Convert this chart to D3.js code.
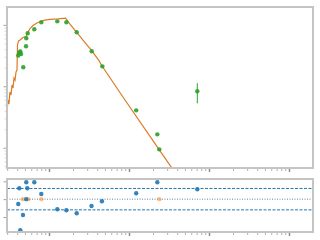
<!DOCTYPE html>
<html>
<head>
<meta charset="utf-8">
<script src="https://cdn.jsdelivr.net/npm/d3@7/dist/d3.min.js"></script>
<style>
html, body { margin: 0; padding: 0; background: #fff; }
</style>
</head>
<body>
<script>
// observed points, top panel
const obsX = [4.13, 4.25, 4.38, 4.47, 4.77, 5.16, 5.20, 5.42, 6.55, 8.01, 12.7, 16.5, 22.2, 34.2, 46.4, 123, 226, 239, 714];
const obsY = [31.7, 35.5, 36.8, 33.5, 20.4, 44.7, 60.4, 72.8, 84.6, 110, 114, 110, 75.5, 37.1, 21.1, 4.06, 1.65, 0.94, 8.28];
// only one point has a visible error bar
const errX = [714];
const errLo = [5.28];
const errHi = [11.2];

// model curve
const modelX = [2.985, 3.07, 3.16, 3.25, 3.35, 3.45, 3.55, 3.65, 3.76, 3.87, 3.98, 4.04, 4.16, 4.34, 4.73, 5.16, 5.46, 5.79, 6.31, 7.08, 7.72, 8.91, 10.3, 13.0, 16.1, 18.3, 22.2, 28.2, 34.2, 42.2, 46.0, 89.1, 237, 434];
const modelY = [3.81, 5.98, 5.15, 8.07, 7.21, 10.5, 9.38, 13.6, 12.6, 17.1, 18.4, 47.0, 54.6, 56.6, 62.2, 64.6, 76.4, 87.1, 97.5, 107, 112, 119, 123, 125, 128, 103, 75.5, 51.5, 37.9, 26.1, 21.4, 5.98, 0.942, 0.30];

// residuals, bottom panel
const resX = [4.13, 4.25, 4.38, 4.73, 5.20, 5.20, 5.36, 6.55, 8.01, 12.7, 16.5, 22.2, 34.0, 45.9, 123, 226, 714];
const resY = [-1.34, 3.05, -8.7, -4.43, 4.73, 0.0, 3.05, 4.73, 1.46, -2.83, -3.11, -3.95, -1.9, -0.59, 1.65, 4.73, 2.77];
const zeroX = [4.73, 5.52, 8.01, 239];
const zeroY = [0, 0, 0, 0];
const sigmaLines = [3, -3];
const resTicks = [-5, 0, 5];
const xMajor = [10, 100, 1000, 10000];
const yMajor = [1, 10, 100];

const width = 320;
const height = 240;
const left = 7;
const right = 313;
const topY0 = 7, topY1 = 168;
const botY0 = 179, botY1 = 232;

const spineColor = "#c4c4c4";
const blue = "#1f77b4";
const orange = "#ff7f0e";
const green = "#2ca02c";

let x = d3.scaleLog().domain([2.985, 19953]).range([left, right]);
let y = d3.scaleLog().domain([0.4677, 195]).range([topY1, topY0]);
let r = d3.scaleLinear().domain([-9.2, 5.65]).range([botY1, botY0]);

let svg = d3.select("body")
    .append("svg")
    .attr("width", width)
    .attr("height", height)
    .style("display", "block");

svg.append("defs").append("clipPath")
    .attr("id", "clip-top")
    .append("rect")
    .attr("x", left)
    .attr("y", topY0)
    .attr("width", right - left)
    .attr("height", topY1 - topY0);

function drawTicks(axis, values, size, color, strokeWidth, transform) {
    svg.append("g")
        .attr("transform", transform)
        .call(axis.tickValues(values).tickSize(size).tickFormat(""))
        .call(g => g.select(".domain").remove())
        .call(g => g.selectAll("line")
            .attr("stroke", color)
            .attr("stroke-width", strokeWidth));
}

function xTicks(yPos) {
    let minor = x.ticks().filter(v => xMajor.indexOf(v) === -1);
    drawTicks(d3.axisBottom(x), minor, 2, "#b0b0b0", 1, `translate(0,${yPos})`);
    drawTicks(d3.axisBottom(x), xMajor, 3, "#909090", 1.5, `translate(0,${yPos})`);
}

function drawFrame(y0, y1) {
    svg.append("rect")
        .attr("x", left)
        .attr("y", y0)
        .attr("width", right - left)
        .attr("height", y1 - y0)
        .attr("fill", "none")
        .attr("stroke", spineColor)
        .attr("stroke-width", 2);
}

// top panel ticks
xTicks(topY1 + 1);
let yMinor = y.ticks().filter(v => yMajor.indexOf(v) === -1);
drawTicks(d3.axisLeft(y), yMinor, 1.5, "#d0d0d0", 0.8, `translate(${left - 1},0)`);
drawTicks(d3.axisLeft(y), yMajor, 2.5, "#a0a0a0", 1, `translate(${left - 1},0)`);

// bottom panel ticks
xTicks(botY1 + 1);
drawTicks(d3.axisLeft(r), resTicks, 2.5, "#a0a0a0", 1, `translate(${left - 1},0)`);

// model line
let line = d3.line()
    .x((d, i) => x(modelX[i]))
    .y((d, i) => y(modelY[i]));

svg.append("path")
    .datum(modelX)
    .attr("clip-path", "url(#clip-top)")
    .attr("d", line)
    .attr("fill", "none")
    .attr("stroke", "#dd7b24")
    .attr("stroke-width", 1.2);

// error bars
svg.append("g")
    .selectAll("line")
    .data(errX)
    .enter()
    .append("line")
    .attr("x1", d => x(d))
    .attr("x2", d => x(d))
    .attr("y1", (d, i) => y(errLo[i]))
    .attr("y2", (d, i) => y(errHi[i]))
    .attr("stroke", green)
    .attr("stroke-width", 1);

// observed points
svg.append("g")
    .selectAll("circle")
    .data(obsX)
    .enter()
    .append("circle")
    .attr("cx", d => x(d))
    .attr("cy", (d, i) => y(obsY[i]))
    .attr("r", 2.2)
    .attr("fill", green)
    .attr("fill-opacity", 0.9);

// residual guide lines
svg.append("g")
    .selectAll("line")
    .data(sigmaLines)
    .enter()
    .append("line")
    .attr("x1", left)
    .attr("x2", right)
    .attr("y1", d => r(d))
    .attr("y2", d => r(d))
    .attr("stroke", blue)
    .attr("stroke-width", 1)
    .attr("stroke-dasharray", "3,1.5");

svg.append("line")
    .attr("x1", left)
    .attr("x2", right)
    .attr("y1", r(0))
    .attr("y2", r(0))
    .attr("stroke", "#5a7fa8")
    .attr("stroke-width", 1)
    .attr("stroke-dasharray", "1,1.5");

// points sitting on zero
svg.append("g")
    .selectAll("circle")
    .data(zeroX)
    .enter()
    .append("circle")
    .attr("cx", d => x(d))
    .attr("cy", (d, i) => r(zeroY[i]))
    .attr("r", 2.2)
    .attr("fill", orange)
    .attr("fill-opacity", 0.5);

// residual points
svg.append("g")
    .selectAll("circle")
    .data(resX)
    .enter()
    .append("circle")
    .attr("cx", d => x(d))
    .attr("cy", (d, i) => r(resY[i]))
    .attr("r", 2.2)
    .attr("fill", blue)
    .attr("fill-opacity", 0.9);

drawFrame(topY0, topY1);
drawFrame(botY0, botY1);
</script>
</body>
</html>
